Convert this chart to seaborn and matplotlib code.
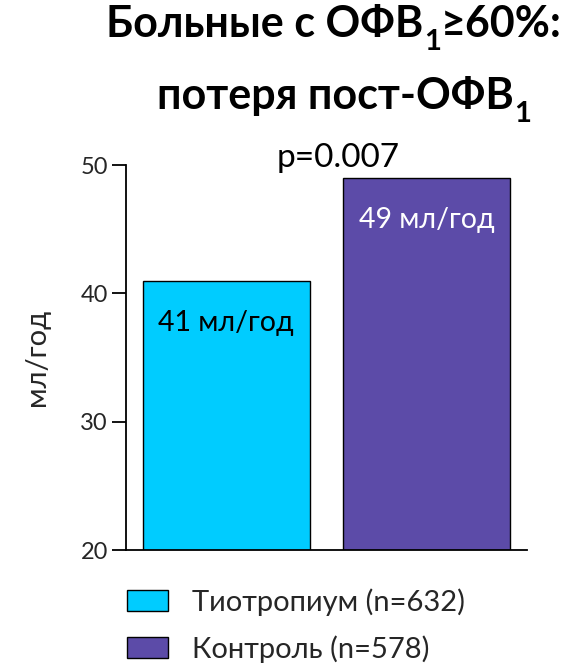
import matplotlib
matplotlib.use("Agg")
import matplotlib.pyplot as plt
import seaborn as sns
import pandas as pd
from matplotlib.patches import Patch

groups = ["Тиотропиум (n=632)", "Контроль (n=578)"]
values = [41, 49]
bar_labels = ["41 мл/год", "49 мл/год"]
label_colors = ["black", "white"]
colors = ["#00CCFF", "#5C4BA8"]
yticks = [20, 30, 40, 50]
p_text = "p=0.007"
title_line1 = [("Больные с ОФВ", False), ("1", True), ("≥60%:", False)]
title_line2 = [("потеря пост-ОФВ", False), ("1", True)]

sns.set_theme(style="white")
plt.rcParams["font.family"] = ["Lato", "DejaVu Sans"]

df = pd.DataFrame({"group": groups, "value": values})

W, H = 567, 665
fig = plt.figure(figsize=(W / 100, H / 100), dpi=100)
ax = fig.add_axes([0.2222, 0.1729, 0.7072, 0.5789])

sns.barplot(data=df, x="group", y="value", hue="group", palette=colors,
            saturation=1, width=0.835, edgecolor="black", linewidth=1.0,
            legend=False, ax=ax)

ax.set_xlim(-0.5, 1.5)
ax.set_ylim(20, 50)
ax.set_yticks(yticks)
ax.set_yticklabels([str(t) for t in yticks], fontsize=17)
ax.set_xticks([])
ax.set_xlabel("")
ax.set_ylabel("мл/год", fontsize=21, labelpad=22)
ax.tick_params(axis="y", direction="out", length=10, width=1.3, color="black", pad=3, left=True)
for s in ["top", "right"]:
    ax.spines[s].set_visible(False)
for s in ["left", "bottom"]:
    ax.spines[s].set_color("black")
    ax.spines[s].set_linewidth(1.3)

for i, (v, lab, c) in enumerate(zip(values, bar_labels, label_colors)):
    ax.text(i, v - 2.3, lab, ha="center", va="top", fontsize=20.5, color=c)

ax.text(0.56, 49.85, p_text, ha="center", va="baseline", fontsize=24, color="black",
        clip_on=False)

# Title with real subscripts, laid out piece by piece
renderer = fig.canvas.get_renderer()


def rich_line(pieces, cx, baseline, size):
    texts = []
    x = 0.0
    for s, sub in pieces:
        fs = size * 0.68 if sub else size
        dy = -0.30 * size * 100 / 72 if sub else 0.0
        t = fig.text(0, 0, s, fontsize=fs, fontweight="bold", va="baseline",
                     ha="left", color="black", transform=None)
        w = t.get_window_extent(renderer).width
        texts.append((t, x, dy))
        x += w
    x0 = cx - x / 2
    for t, off, dy in texts:
        t.set_position((x0 + off, H - baseline + dy))


rich_line(title_line1, 334, 37, 31)
rich_line(title_line2, 344, 109, 31)

handles = [Patch(facecolor=c, edgecolor="black", linewidth=1.0) for c in colors]
fig.legend(handles, groups, loc="upper left", bbox_to_anchor=(127 / W, 1 - 588 / H),
           frameon=False, fontsize=21, handlelength=1.4, handleheight=0.72,
           handletextpad=0.82, labelspacing=0.67, borderpad=0, borderaxespad=0)

fig.savefig("out.png", dpi=100)
